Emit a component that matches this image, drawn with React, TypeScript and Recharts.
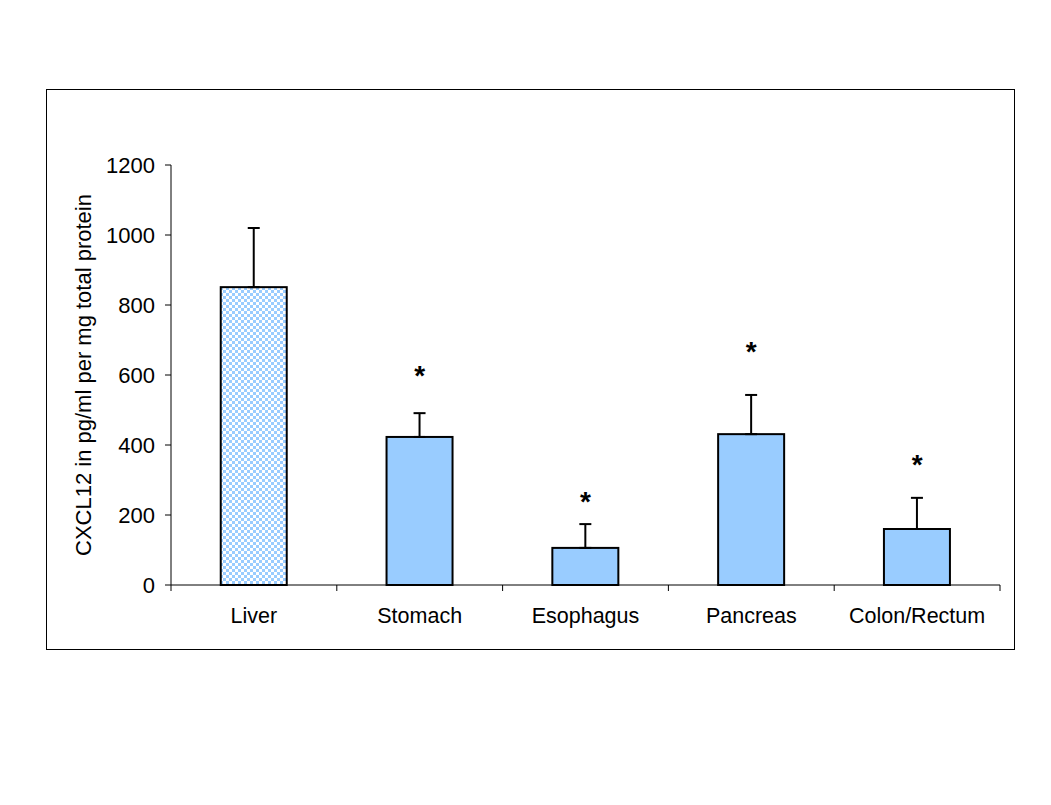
// CXCL12 par organe — barres avec erreur (haut seulement) et astérisques de significativité.
import { Bar, ComposedChart, ErrorBar, Scatter, XAxis, YAxis } from "recharts";

const categories = ["Liver", "Stomach", "Esophagus", "Pancreas", "Colon/Rectum"];
const means = [851, 423, 106, 431, 160];
const sems = [169, 68, 68, 112, 89];
// hauteur (unités de l'axe) où l'astérisque est posé ; null = pas d'astérisque
const stars: (number | null)[] = [null, 609, 249, 677, 354];
const yTicks = [0, 200, 400, 600, 800, 1000, 1200];

const data = categories.map((name, i) => ({
  name,
  value: means[i],
  err: [0, sems[i]],
  star: stars[i],
}));

const W = 969;
const H = 561;
const M = { top: 76, right: 15, bottom: 25, left: 65 };
const Y_W = 60;
const BAND = (W - M.left - M.right - Y_W) / categories.length;
const TICK_SIZE = 6;
const TICK_MARGIN = 14;
const FONT = "'Liberation Sans', Arial, sans-serif";
const BLUE = "#99ccff";

function CatTick(props: any) {
  const { x, y, payload, index } = props;
  const axisY = y - TICK_SIZE - TICK_MARGIN;
  const left = x - BAND / 2;
  const last = index === categories.length - 1;
  return (
    <g>
      <line x1={left} x2={left} y1={axisY} y2={axisY + TICK_SIZE} stroke="#000" />
      {last && <line x1={x + BAND / 2} x2={x + BAND / 2} y1={axisY} y2={axisY + TICK_SIZE} stroke="#000" />}
      <text x={x} y={axisY + 38} textAnchor="middle" fontSize={21.5} fill="#000" fontFamily={FONT}>
        {payload.value}
      </text>
    </g>
  );
}

function Star(props: any) {
  const { cx, cy, payload } = props;
  if (payload?.star == null || cy == null || isNaN(cy)) return null;
  return (
    <text x={cx} y={cy + 13} textAnchor="middle" fontSize={28} fontWeight="bold" fill="#000" fontFamily={FONT}>
      *
    </text>
  );
}

export default function App() {
  return (
    <div style={{ position: "absolute", left: 46, top: 89, width: W, height: H, fontFamily: FONT }}>
      <div style={{ position: "absolute", inset: 0, border: "1px solid #000", boxSizing: "border-box" }} />
      <ComposedChart width={W} height={H} data={data} margin={M} barCategoryGap="30%">
        <defs>
          <pattern id="checks" width="6" height="6" patternUnits="userSpaceOnUse">
            <rect width="6" height="6" fill="#ffffff" />
            <rect width="3" height="3" fill={BLUE} />
            <rect x="3" y="3" width="3" height="3" fill={BLUE} />
          </pattern>
        </defs>
        <XAxis
          dataKey="name"
          height={40}
          tickLine={false}
          axisLine={{ stroke: "#000" }}
          tickSize={TICK_SIZE}
          tickMargin={TICK_MARGIN}
          tick={<CatTick />}
          interval={0}
        />
        <YAxis
          width={Y_W}
          domain={[0, 1200]}
          ticks={yTicks}
          tickSize={TICK_SIZE}
          tickMargin={10}
          tickLine={{ stroke: "#000" }}
          axisLine={{ stroke: "#000" }}
          tick={{ fill: "#000", fontSize: 22, fontFamily: FONT }}
          label={{
            value: "CXCL12 in pg/ml per mg total protein",
            angle: -90,
            position: "left",
            offset: 28,
            style: { textAnchor: "middle", fill: "#000", fontSize: 22, fontFamily: FONT },
          }}
        />
        <Bar
          dataKey="value"
          isAnimationActive={false}
          stroke="#000"
          strokeWidth={2}
          shape={(p: any) => (
            <rect
              x={p.x}
              y={p.y}
              width={p.width}
              height={p.height}
              fill={p.index === 0 ? "url(#checks)" : BLUE}
              stroke="#000"
              strokeWidth={2}
            />
          )}
        >
          <ErrorBar dataKey="err" width={6} stroke="#000" strokeWidth={2} direction="y" />
        </Bar>
        <Scatter dataKey="star" isAnimationActive={false} shape={<Star />} />
      </ComposedChart>
    </div>
  );
}
